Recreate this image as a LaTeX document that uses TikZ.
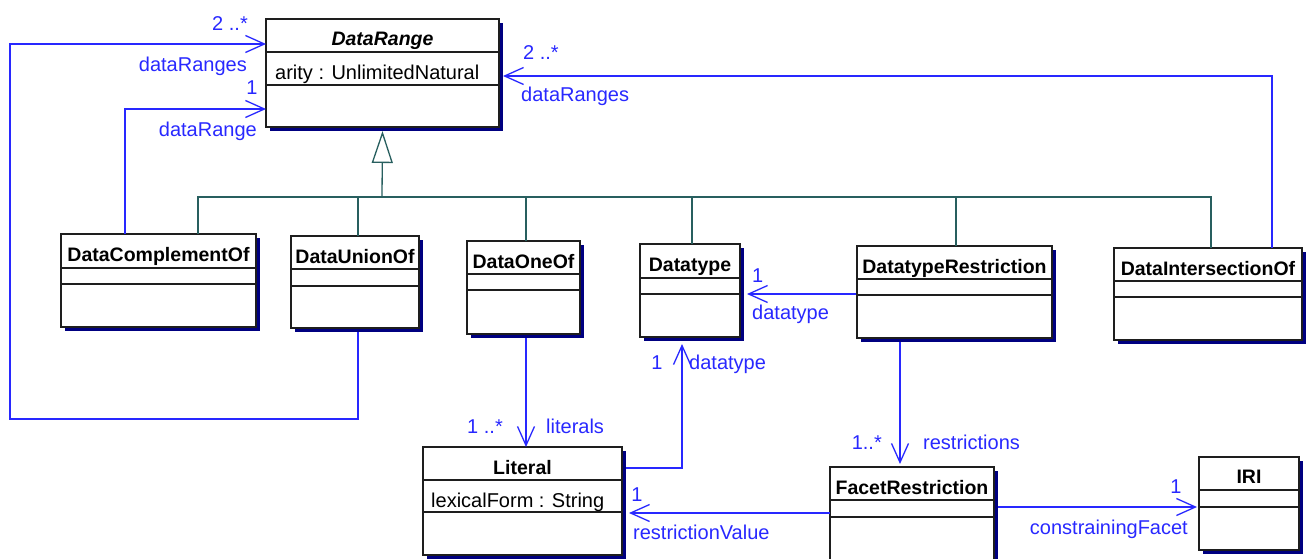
\documentclass[tikz,border=0pt]{standalone}
\usepackage{fontspec}
\setmainfont{Liberation Sans}
\usetikzlibrary{arrows.meta,shadows}

\definecolor{blu}{RGB}{40,40,255}
\definecolor{verdeacqua}{RGB}{40,95,95}
\definecolor{ombra}{RGB}{0,0,128}
\definecolor{bordo}{RGB}{30,30,30}

\tikzset{
  classe/.style={draw=bordo, line width=1.5pt, fill=white, inner sep=0pt, outer sep=0pt, anchor=north west,
    drop shadow={shadow xshift=4pt, shadow yshift=-4pt, fill=ombra, opacity=1}},
  titolo/.style={anchor=base, inner sep=0pt, font=\fontsize{19.5}{22}\selectfont\bfseries},
  attributo/.style={anchor=base west, inner sep=0pt, font=\fontsize{20}{24}\selectfont},
  divisore/.style={draw=bordo, line width=1.5pt},
  gener/.style={draw=verdeacqua, line width=1.3pt},
  assoc/.style={draw=blu, line width=1.5pt, -{Straight Barb[length=19pt, width=17pt, line width=1.3pt]}},
  etichetta/.style={text=blu, inner sep=0pt, font=\fontsize{20}{24}\selectfont},
}

\begin{document}
\begin{tikzpicture}[x=1pt, y=-1pt]
        \useasboundingbox (0,0) rectangle (1308,559);

        % Classe astratta
        \node[classe, minimum width=233pt, minimum height=108pt] (range) at (266,19) {};
        \draw[divisore] ([yshift=-33pt]range.north west) -- ([yshift=-33pt]range.north east);
        \draw[divisore] ([yshift=-66pt]range.north west) -- ([yshift=-66pt]range.north east);
        \node[titolo] (t-range) at ([yshift=-27pt]range.north) {\itshape DataRange};
        \node[attributo] (a-range) at ([xshift=9pt,yshift=-61pt]range.north west) {arity : UnlimitedNatural};

        % Sottoclassi
        \node[classe, minimum width=195pt, minimum height=93pt] (complement) at (61,234) {};
        \draw[divisore] ([yshift=-34pt]complement.north west) -- ([yshift=-34pt]complement.north east);
        \draw[divisore] ([yshift=-50pt]complement.north west) -- ([yshift=-50pt]complement.north east);
        \node[titolo] (t-complement) at ([yshift=-27pt]complement.north) {DataComplementOf};

        \node[classe, minimum width=128pt, minimum height=92pt] (union) at (291,236) {};
        \draw[divisore] ([yshift=-33pt]union.north west) -- ([yshift=-33pt]union.north east);
        \draw[divisore] ([yshift=-50pt]union.north west) -- ([yshift=-50pt]union.north east);
        \node[titolo] (t-union) at ([yshift=-27pt]union.north) {DataUnionOf};

        \node[classe, minimum width=113pt, minimum height=93pt] (oneof) at (467,241) {};
        \draw[divisore] ([yshift=-33pt]oneof.north west) -- ([yshift=-33pt]oneof.north east);
        \draw[divisore] ([yshift=-49pt]oneof.north west) -- ([yshift=-49pt]oneof.north east);
        \node[titolo] (t-oneof) at ([yshift=-27pt]oneof.north) {DataOneOf};

        \node[classe, minimum width=100pt, minimum height=93pt] (datatype) at (640,244) {};
        \draw[divisore] ([yshift=-34pt]datatype.north west) -- ([yshift=-34pt]datatype.north east);
        \draw[divisore] ([yshift=-50pt]datatype.north west) -- ([yshift=-50pt]datatype.north east);
        \node[titolo] (t-datatype) at ([yshift=-27pt]datatype.north) {Datatype};

        \node[classe, minimum width=195pt, minimum height=92pt] (restriction) at (857,246) {};
        \draw[divisore] ([yshift=-33pt]restriction.north west) -- ([yshift=-33pt]restriction.north east);
        \draw[divisore] ([yshift=-49pt]restriction.north west) -- ([yshift=-49pt]restriction.north east);
        \node[titolo] (t-restriction) at ([yshift=-27pt]restriction.north) {DatatypeRestriction};

        \node[classe, minimum width=188pt, minimum height=92pt] (intersection) at (1114,248) {};
        \draw[divisore] ([yshift=-33pt]intersection.north west) -- ([yshift=-33pt]intersection.north east);
        \draw[divisore] ([yshift=-49pt]intersection.north west) -- ([yshift=-49pt]intersection.north east);
        \node[titolo] (t-intersection) at ([yshift=-27pt]intersection.north) {DataIntersectionOf};

        % Classi in basso
        \node[classe, minimum width=199pt, minimum height=108pt] (literal) at (423,447) {};
        \draw[divisore] ([yshift=-33pt]literal.north west) -- ([yshift=-33pt]literal.north east);
        \draw[divisore] ([yshift=-65pt]literal.north west) -- ([yshift=-65pt]literal.north east);
        \node[titolo] (t-literal) at ([yshift=-27pt]literal.north) {Literal};
        \node[attributo] (a-literal) at ([xshift=8pt,yshift=-60pt]literal.north west) {lexicalForm : String};

        \node[classe, minimum width=164pt, minimum height=120pt] (facet) at (830,467) {};
        \draw[divisore] ([yshift=-33pt]facet.north west) -- ([yshift=-33pt]facet.north east);
        \draw[divisore] ([yshift=-50pt]facet.north west) -- ([yshift=-50pt]facet.north east);
        \node[titolo] (t-facet) at ([yshift=-27pt]facet.north) {FacetRestriction};

        \node[classe, minimum width=100pt, minimum height=93pt] (iri) at (1199,457) {};
        \draw[divisore] ([yshift=-33pt]iri.north west) -- ([yshift=-33pt]iri.north east);
        \draw[divisore] ([yshift=-50pt]iri.north west) -- ([yshift=-50pt]iri.north east);
        \node[titolo] (t-iri) at ([yshift=-26pt]iri.north) {IRI};

        % Generalizzazione
        \coordinate (bus) at (382,197);
        \draw[gener, -{Triangle[length=32pt, width=21pt, fill=white]}] (bus) -- ([yshift=-4pt]range.south);
        \draw[gener] ([xshift=137pt]complement.north west) |- (bus);
        \draw[gener] ([xshift=67pt]union.north west) |- (bus);
        \draw[gener] ([xshift=59pt]oneof.north west) |- (bus);
        \draw[gener] ([xshift=52pt]datatype.north west) |- (bus);
        \draw[gener] ([xshift=99pt]restriction.north west) |- (bus);
        \draw[gener] ([xshift=97pt]intersection.north west) |- (bus);

        % Associazioni verso DataRange
        \coordinate (giro) at (10,419);
        \draw[assoc] ([xshift=67pt,yshift=-4pt]union.south west) |- (giro) |- ([yshift=-25pt]range.north west);
        \node[etichetta, anchor=base east] (m-union) at (248,31) {2 ..*};
        \node[etichetta, anchor=base east] (r-union) at (247,72) {dataRanges};

        \draw[assoc] ([xshift=64pt]complement.north west) |- ([yshift=-90pt]range.north west);
        \node[etichetta, anchor=base] (m-complement) at (252,95) {1};
        \node[etichetta, anchor=base east] (r-complement) at (257,136) {dataRange};

        \draw[assoc] ([xshift=158pt]intersection.north west) |- ([xshift=4pt,yshift=-57pt]range.north east);
        \node[etichetta, anchor=base west] (m-intersection) at (523,60) {2 ..*};
        \node[etichetta, anchor=base west] (r-intersection) at (521,102) {dataRanges};

        % Associazioni verso Datatype
        \coordinate (p-restr-dt) at ([xshift=-1pt,yshift=-48pt]restriction.north west);
        \coordinate (q-restr-dt) at ([xshift=7pt]datatype.east);
        \draw[assoc] (p-restr-dt) -- (p-restr-dt -| q-restr-dt);
        \node[etichetta, anchor=base west] (m-restr-dt) at (752,282) {1};
        \node[etichetta, anchor=base west] (r-restr-dt) at (752,319) {datatype};

        \draw[assoc] ([xshift=4pt,yshift=-21pt]literal.north east) -| ([xshift=42pt,yshift=-7pt]datatype.south west);
        \node[etichetta, anchor=base] (m-literal-dt) at (657,369) {1};
        \node[etichetta, anchor=base west] (r-literal-dt) at (689,369) {datatype};

        % Literal e FacetRestriction
        \coordinate (p-oneof) at ([xshift=59pt,yshift=-4pt]oneof.south west);
        \draw[assoc] (p-oneof) -- (p-oneof |- literal.north);
        \node[etichetta, anchor=base east] (m-oneof) at (503,433) {1 ..*};
        \node[etichetta, anchor=base west] (r-oneof) at (546,433) {literals};

        \coordinate (p-restr) at ([xshift=43pt,yshift=-4pt]restriction.south west);
        \coordinate (q-restr) at ([yshift=3pt]facet.north);
        \draw[assoc] (p-restr) -- (p-restr |- q-restr);
        \node[etichetta, anchor=base east] (m-restr) at (882,449) {1..*};
        \node[etichetta, anchor=base west] (r-restr) at (923,449) {restrictions};

        \coordinate (p-facet-l) at ([yshift=-46pt]facet.north west);
        \coordinate (q-facet-l) at ([xshift=7pt]literal.east);
        \draw[assoc] (p-facet-l) -- (p-facet-l -| q-facet-l);
        \node[etichetta, anchor=base] (m-facet-l) at (637,501) {1};
        \node[etichetta, anchor=base west] (r-facet-l) at (633,539) {restrictionValue};

        \coordinate (p-facet-r) at ([xshift=4pt,yshift=-40pt]facet.north east);
        \coordinate (q-facet-r) at ([xshift=-2pt]iri.west);
        \draw[assoc] (p-facet-r) -- (p-facet-r -| q-facet-r);
        \node[etichetta, anchor=base] (m-facet-r) at (1176,493) {1};
        \node[etichetta, anchor=base east] (r-facet-r) at (1188,534) {constrainingFacet};
    \end{tikzpicture}
\end{document}
